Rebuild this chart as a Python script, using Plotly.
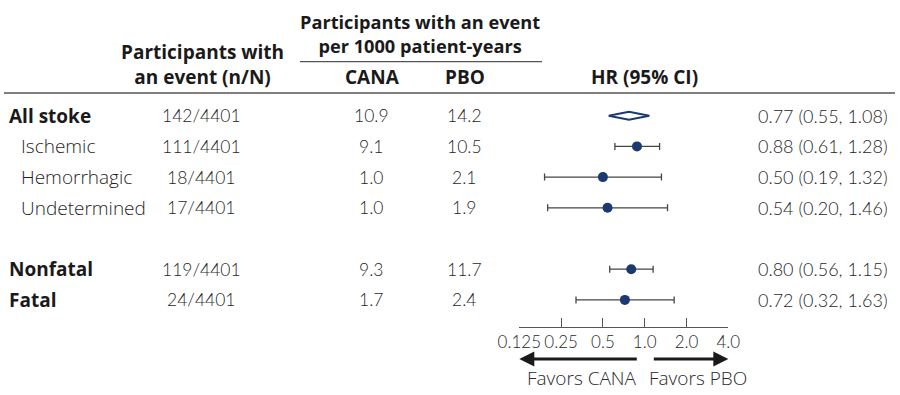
import math
import plotly.graph_objects as go

W, H = 900, 395

# ---------------- data ----------------
subgroups = ["All stoke", "Ischemic", "Hemorrhagic", "Undetermined", "Nonfatal", "Fatal"]
is_main = [True, False, False, False, True, True]
row_index = [0, 1, 2, 3, 5, 6]
events = ["142/4401", "111/4401", "18/4401", "17/4401", "119/4401", "24/4401"]
cana_rate = ["10.9", "9.1", "1.0", "1.0", "9.3", "1.7"]
pbo_rate = ["14.2", "10.5", "2.1", "1.9", "11.7", "2.4"]
hr = [0.77, 0.88, 0.50, 0.54, 0.80, 0.72]
ci_low = [0.55, 0.61, 0.19, 0.20, 0.56, 0.32]
ci_high = [1.08, 1.28, 1.32, 1.46, 1.15, 1.63]
marker_kind = ["diamond", "circle", "circle", "circle", "circle", "circle"]
tick_vals = [0.125, 0.25, 0.5, 1.0, 2.0, 4.0]
tick_text = ["0.125", "0.25", "0.5", "1.0", "2.0", "4.0"]

# ---------------- style ----------------
NAVY = "#1b3a6f"
TXT = "#1f1f1f"
BOLDC = "#1a1a1a"
GRID = "#555555"
SANS = "'Open Sans', Lato, sans-serif"
NUM = "Lato, 'Open Sans', sans-serif"

ROW0, STEP = 115.7, 30.7  # pixel position of first row and row spacing


def py(p):
    return 1 - p / H


def px(p):
    return p / W


fig = go.Figure()

# circles with CIs
ci_rows = [i for i, k in enumerate(marker_kind) if k == "circle"]
fig.add_trace(go.Scatter(
    x=[hr[i] for i in ci_rows],
    y=[row_index[i] for i in ci_rows],
    mode="markers",
    marker=dict(color=NAVY, size=10, line=dict(width=0)),
    error_x=dict(type="data", symmetric=False,
                 array=[ci_high[i] - hr[i] for i in ci_rows],
                 arrayminus=[hr[i] - ci_low[i] for i in ci_rows],
                 color="#444444", thickness=1.3, width=3.5),
    showlegend=False, hoverinfo="skip",
))

# diamond(s) for overall
for i, k in enumerate(marker_kind):
    if k != "diamond":
        continue
    r = row_index[i]
    h = 0.13
    fig.add_trace(go.Scatter(
        x=[ci_low[i], hr[i], ci_high[i], hr[i], ci_low[i]],
        y=[r, r - h, r, r + h, r],
        mode="lines", fill="toself", fillcolor="white",
        line=dict(color=NAVY, width=2),
        showlegend=False, hoverinfo="skip",
    ))

ann = []


def add_text(x, y, text, size=18, bold=False, xanchor="center", color=TXT, yref="y",
             family=SANS, weight=None):
    f = dict(family=family, size=size, color=color)
    if weight is not None:
        f["weight"] = weight
    ann.append(dict(
        x=x, y=y, xref="paper", yref=yref, text=f"<b>{text}</b>" if bold else text,
        showarrow=False, xanchor=xanchor, yanchor="middle", font=f,
    ))


# row texts
for i, name in enumerate(subgroups):
    r = row_index[i]
    if is_main[i]:
        add_text(px(7), r, name, size=19, bold=True, xanchor="left", color=BOLDC)
    else:
        add_text(px(19), r, name, size=19, xanchor="left", weight=300)
    add_text(px(201), r, events[i], size=17.5, family=NUM, weight=300)
    add_text(px(371), r, cana_rate[i], size=17.5, family=NUM, weight=300)
    add_text(px(464), r, pbo_rate[i], size=17.5, family=NUM, weight=300)
    add_text(px(890), r, f"{hr[i]:.2f} ({ci_low[i]:.2f}, {ci_high[i]:.2f})", size=18,
             xanchor="right", family=NUM, weight=300)

# headers
add_text(px(202), py(64.5), "Participants with<br>an event (n/N)", size=19, bold=True,
         color=BOLDC, yref="paper")
add_text(px(420), py(33.5), "Participants with an event<br>per 1000 patient-years", size=18.2,
         bold=True, color=BOLDC, yref="paper")
add_text(px(372), py(77), "CANA", size=19, bold=True, color=BOLDC, yref="paper")
add_text(px(465), py(77), "PBO", size=19, bold=True, color=BOLDC, yref="paper")
add_text(px(644), py(77), "HR (95% CI)", size=19, bold=True, color=BOLDC, yref="paper")

# favors labels
add_text(px(582), py(378), "Favors CANA", size=19, color="#2a2a2a", yref="paper", weight=300)
add_text(px(698), py(378), "Favors PBO", size=19, color="#2a2a2a", yref="paper", weight=300)

# arrows
arrow_y = py(359)
ann.append(dict(x=math.log10(tick_vals[0]), y=arrow_y, xref="x", yref="paper",
                ax=119, ay=0, axref="pixel", ayref="pixel", text="", showarrow=True,
                arrowhead=2, arrowsize=1.0, arrowwidth=3, arrowcolor="#1a1a1a"))
ann.append(dict(x=math.log10(tick_vals[-1]), y=arrow_y, xref="x", yref="paper",
                ax=-76, ay=0, axref="pixel", ayref="pixel", text="", showarrow=True,
                arrowhead=2, arrowsize=1.0, arrowwidth=3, arrowcolor="#1a1a1a"))

shapes = [
    # header rule
    dict(type="line", xref="paper", yref="paper", x0=px(4), x1=px(895), y0=py(93), y1=py(93),
         line=dict(color=GRID, width=1.5)),
    # sub-header rule
    dict(type="line", xref="paper", yref="paper", x0=px(300), x1=px(542), y0=py(61.7), y1=py(61.7),
         line=dict(color=GRID, width=1.3)),
    # reference line at HR = 1
    dict(type="line", xref="x", yref="paper", x0=0, x1=0, y0=py(93), y1=py(327),
         line=dict(color="#555555", width=1.3, dash="3px,3px"), layer="below"),
]

fig.update_layout(
    width=W, height=H, autosize=False,
    margin=dict(l=0, r=0, t=0, b=0, pad=0, autoexpand=False),
    paper_bgcolor="white", plot_bgcolor="rgba(0,0,0,0)",
    annotations=ann, shapes=shapes,
    xaxis=dict(
        type="log", domain=[px(519.3), px(728.3)],
        range=[math.log10(tick_vals[0]), math.log10(tick_vals[-1])],
        anchor="free", position=py(326.7),
        showline=True, linecolor=GRID, linewidth=1.3,
        ticks="inside", ticklen=9, tickwidth=1.3, tickcolor=GRID,
        tickvals=tick_vals, ticktext=tick_text,
        tickfont=dict(family=NUM, size=17, color="#2a2a2a", weight=300),
        showgrid=False, zeroline=False, automargin=False,
    ),
    yaxis=dict(
        visible=False, domain=[0, 1], automargin=False,
        range=[(H - ROW0) / STEP, -ROW0 / STEP],
    ),
    showlegend=False,
)

fig.write_html(
    "out.html",
    config={"responsive": False, "displayModeBar": False},
    post_script="document.body.style.margin='0';document.body.style.overflow='hidden';",
)
